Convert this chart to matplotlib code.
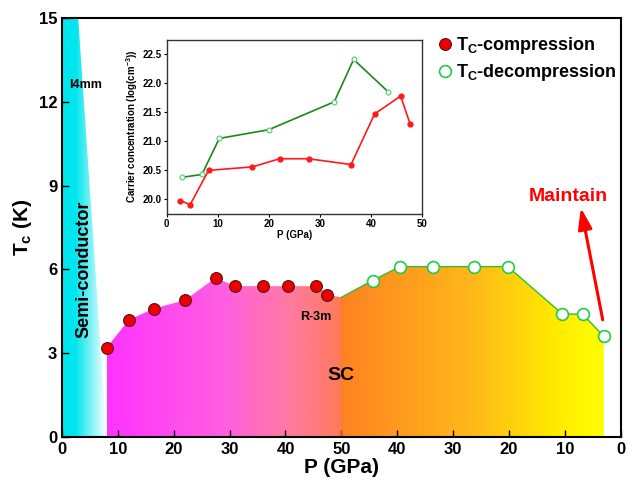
import numpy as np
import matplotlib
matplotlib.use('Agg')
import matplotlib.pyplot as plt
from matplotlib.colors import LinearSegmentedColormap
from matplotlib.patches import Polygon

plt.rcParams['font.family'] = ['Liberation Sans', 'DejaVu Sans']
plt.rcParams['font.weight'] = 'bold'
plt.rcParams['mathtext.fontset'] = 'custom'
plt.rcParams['mathtext.rm'] = 'Liberation Sans:bold'
plt.rcParams['mathtext.it'] = 'Liberation Sans:bold'
plt.rcParams['mathtext.bf'] = 'Liberation Sans:bold'

# main panel: x runs 0->50 (compression) then 50->100 (decompression, P = 100 - x)
comp_x = [8, 12, 16.5, 22, 27.5, 31, 36, 40.5, 45.5, 47.5]
comp_tc = [3.2, 4.2, 4.6, 4.9, 5.7, 5.4, 5.4, 5.4, 5.4, 5.1]
decomp_p = [44.4, 39.5, 33.5, 26.3, 20.2, 10.4, 6.8, 3.0]
decomp_tc = [5.6, 6.1, 6.1, 6.1, 6.1, 4.4, 4.4, 3.6]
xtick_labels = ['0', '10', '20', '30', '40', '50', '40', '30', '20', '10', '0']

# inset: carrier concentration
ins_comp_p = [2.7, 4.6, 8.2, 16.8, 22.1, 27.8, 36.1, 40.7, 45.8, 47.7]
ins_comp_n = [19.98, 19.91, 20.50, 20.56, 20.70, 20.70, 20.60, 21.47, 21.78, 21.29]
ins_decomp_p = [3.0, 6.9, 10.3, 20.0, 32.8, 36.6, 43.4]
ins_decomp_n = [20.38, 20.43, 21.05, 21.20, 21.68, 22.41, 21.85]

decomp_x = [100 - p for p in decomp_p]

fig = plt.figure(figsize=(6.29, 4.84), dpi=100)
ax = fig.add_axes([0.0986, 0.097, 0.888, 0.866])
ax.set_xlim(0, 100)
ax.set_ylim(0, 15)

# semiconductor region (cyan -> white)
semi = Polygon([(0, 0), (0, 15), (2.9, 15), (8, 0)], closed=True,
               facecolor='none', edgecolor='none')
ax.add_patch(semi)
cyan_map = LinearSegmentedColormap.from_list('cy', [(0, '#00e6ee'), (0.3, '#00e6ee'), (1, '#ffffff')])
grad = np.linspace(0, 1, 256).reshape(1, -1)
im = ax.imshow(grad, extent=[0, 8, 0, 15], aspect='auto', cmap=cyan_map, zorder=1)
im.set_clip_path(semi)

# superconducting dome, compression half
left_top = list(zip(comp_x, comp_tc)) + [(50, 5.0)]
left_poly = Polygon([(8, 0)] + left_top + [(50, 0)], closed=True,
                    facecolor='none', edgecolor='none')
ax.add_patch(left_poly)
pink_map = LinearSegmentedColormap.from_list(
    'pk', [(0, '#ff33ff'), (0.5, '#ff5fe0'), (0.78, '#ff7aa0'), (1, '#ff7a58')])
im2 = ax.imshow(grad, extent=[8, 50, 0, 15], aspect='auto', cmap=pink_map, zorder=1)
im2.set_clip_path(left_poly)

# decompression half
right_top = [(50, 5.0)] + list(zip(decomp_x, decomp_tc))
right_poly = Polygon(right_top + [(decomp_x[-1], 0), (50, 0)], closed=True,
                     facecolor='none', edgecolor='none')
ax.add_patch(right_poly)
orange_map = LinearSegmentedColormap.from_list(
    'or', [(0, '#ff8222'), (0.5, '#ffb81a'), (0.8, '#ffe800'), (1, '#ffff00')])
im3 = ax.imshow(grad, extent=[50, decomp_x[-1], 0, 15], aspect='auto', cmap=orange_map, zorder=1)
im3.set_clip_path(right_poly)

ax.plot([50, 50], [0, 5.0], color='#f47a20', lw=0.6, zorder=2)
ax.plot([p[0] for p in right_top], [p[1] for p in right_top], color='#33bb33', lw=1.0, zorder=3)

ax.plot(comp_x, comp_tc, 'o', color='#ee0000', mec='#551111', mew=0.8, ms=8.5,
        zorder=4, label='T$_{C}$-compression')
ax.plot(decomp_x, decomp_tc, 'o', mfc='white', mec='#22cc44', mew=1.2, ms=8.5,
        zorder=4, label='T$_{C}$-decompression')

ax.set_xticks(np.arange(0, 101, 10))
ax.set_xticklabels(xtick_labels)
ax.set_yticks([0, 3, 6, 9, 12, 15])
ax.tick_params(direction='in', labelsize=12, length=5, width=1)
for lab in ax.get_xticklabels() + ax.get_yticklabels():
    lab.set_fontweight('bold')
for s in ax.spines.values():
    s.set_linewidth(1.5)
ax.set_xlabel('P (GPa)', fontsize=15, fontweight='bold', labelpad=1)
ax.set_ylabel('T$_{c}$ (K)', fontsize=15, fontweight='bold', labelpad=3)

ax.text(1.2, 12.6, 'I4mm', fontsize=9, fontweight='bold', va='center', zorder=5)
ax.text(4.0, 6.0, 'Semi-conductor', fontsize=13, fontweight='bold', rotation=90,
        ha='center', va='center', zorder=5)
ax.text(45.5, 4.3, 'R-3m', fontsize=9, fontweight='bold', ha='center', va='center', zorder=5)
ax.text(50, 2.2, 'SC', fontsize=14, fontweight='bold', ha='center', va='center', zorder=5)
ax.text(90.6, 8.6, 'Maintain', fontsize=14, fontweight='bold', color='#ff0000',
        ha='center', va='center', zorder=5)
ax.annotate('', xy=(92.8, 8.3), xytext=(96.9, 4.1),
            arrowprops=dict(arrowstyle='-|>,head_length=0.9,head_width=0.3', color='#ff0000',
                            lw=2.2, mutation_scale=14),
            zorder=5)

ax.legend(loc='upper right', bbox_to_anchor=(1.012, 0.985), frameon=False,
          handletextpad=0.1, handlelength=1.0, borderaxespad=0.2, labelspacing=0.35,
          prop={'weight': 'bold', 'size': 13})

# inset
ins = fig.add_axes([0.265, 0.558, 0.406, 0.36])
ins.plot(ins_decomp_p, ins_decomp_n, '-o', color='#1a8a1a', lw=1.2, ms=3.5,
         mfc='white', mec='#55cc66', mew=0.8)
ins.plot(ins_comp_p, ins_comp_n, '-o', color='#ff1a1a', lw=1.2, ms=3.5,
         mfc='#ff1a1a', mec='#ff1a1a')
ins.set_xlim(0, 50)
ins.set_ylim(19.75, 22.75)
ins.set_xticks(np.arange(0, 51, 10))
ins.set_yticks([20.0, 20.5, 21.0, 21.5, 22.0, 22.5])
ins.set_yticklabels(['20.0', '20.5', '21.0', '21.5', '22.0', '22.5'])
ins.tick_params(labelsize=7, length=2, width=0.8, pad=1.5)
for lab in ins.get_xticklabels() + ins.get_yticklabels():
    lab.set_fontweight('bold')
for s in ins.spines.values():
    s.set_linewidth(1.0)
    s.set_color('#333333')
ins.set_xlabel('P (GPa)', fontsize=7, fontweight='bold', labelpad=1)
ins.set_ylabel('Carrier concentration (log(cm$^{-3}$))', fontsize=7, fontweight='bold', labelpad=2)

fig.savefig('out.png', dpi=100)
